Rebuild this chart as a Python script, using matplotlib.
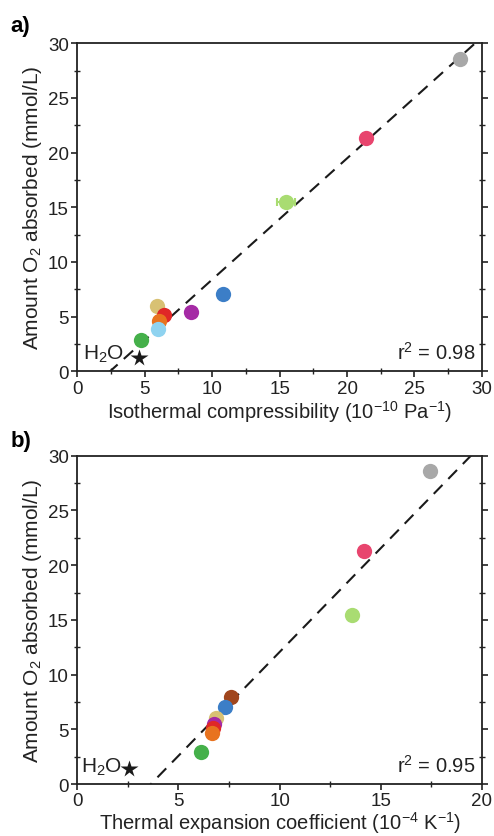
import numpy as np
import matplotlib
matplotlib.use("Agg")
import matplotlib.pyplot as plt
from matplotlib.ticker import MultipleLocator

plt.rcParams['font.family'] = ['Liberation Sans', 'DejaVu Sans']
plt.rcParams['mathtext.fontset'] = 'custom'
plt.rcParams['mathtext.rm'] = 'Liberation Sans'
plt.rcParams['mathtext.it'] = 'Liberation Sans:italic'

colors = ['#a8a8a8', '#e8456e', '#a9dc72', '#a0461d', '#3c7ec7', '#d8c173',
          '#a52aa5', '#e02727', '#e8731f', '#8fd3f0', '#45b04a']
o2_absorbed = [28.57, 21.3, 15.49, 7.98, 7.04, 5.98, 5.43, 5.12, 4.63, 3.90, 2.86]
# Isothermal compressibility (10^-10 Pa^-1); NaN = not shown
compress = [28.4, 21.37, 15.46, np.nan, 10.79, 5.89, 8.41, 6.43, 6.08, 6.01, 4.70]
compress_err = [0, 0, 0.65, 0, 0, 0, 0, 0, 0, 0, 0]
o2_b = [28.58, 21.3, 15.48, 7.98, 7.07, 6.0, 5.48, 5.09, 4.69, np.nan, 2.95]
# Thermal expansion coefficient (10^-4 K^-1)
expansion = [17.44, 14.19, 13.59, 7.59, 7.29, 6.88, 6.76, 6.70, 6.65, np.nan, 6.10]

water_a = (4.55, 1.25)
water_b = (2.56, 1.37)

fit_a = (1.108, -2.69)
fit_b = (1.897, -6.905)
r2_a = "0.98"
r2_b = "0.95"

TXT = '#222222'

fig = plt.figure(figsize=(4.94, 8.37), dpi=100)
ax1 = fig.add_axes([0.1565, 0.5552, 0.819, 0.392])
ax2 = fig.add_axes([0.1565, 0.0621, 0.819, 0.3922])

def style(ax, xmax, xmajor):
    ax.set_xlim(0, xmax)
    ax.set_ylim(0, 30)
    ax.xaxis.set_major_locator(MultipleLocator(xmajor))
    ax.xaxis.set_minor_locator(MultipleLocator(xmajor / 2))
    ax.yaxis.set_major_locator(MultipleLocator(5))
    ax.yaxis.set_minor_locator(MultipleLocator(2.5))
    for s in ax.spines.values():
        s.set_linewidth(1.3)
        s.set_color(TXT)
    ax.tick_params(which='major', direction='out', length=4, width=1.2,
                   labelsize=13.5, colors=TXT, pad=2)
    ax.tick_params(which='minor', direction='inout', length=5, width=1.0,
                   colors=TXT)
    ax.tick_params(axis='y', which='both', right=True, labelright=False)

def draw(ax, xs, ys, fit, xmax, water, r2, label_x, xerr=None):
    xx = np.linspace(0, xmax, 200)
    ax.plot(xx, fit[0] * xx + fit[1], color='#1a1a1a', lw=1.5,
            linestyle=(0, (6, 4)), zorder=2)
    for i, (x, y) in enumerate(zip(xs, ys)):
        if np.isnan(x) or np.isnan(y):
            continue
        if xerr is not None and xerr[i] > 0:
            ax.errorbar(x, y, xerr=xerr[i], fmt='none', ecolor=colors[i],
                        elinewidth=1.5, capsize=3, capthick=1.5, zorder=3)
        ax.plot(x, y, 'o', ms=11, color=colors[i], mec='none', zorder=4)
    ax.plot(water[0], water[1], '*', ms=13, color='#1a1a1a', mec='none', zorder=5)
    ax.text(label_x, 1.6, 'H$_2$O', fontsize=15, ha='left', va='center',
            color=TXT)
    ax.text(0.985, 0.025, 'r$^2$ = ' + r2, transform=ax.transAxes, ha='right',
            va='bottom', fontsize=14.5, color=TXT)

style(ax1, 30, 5)
draw(ax1, compress, o2_absorbed, fit_a, 30, water_a, r2_a, 0.45, compress_err)
style(ax2, 20, 5)
draw(ax2, expansion, o2_b, fit_b, 20, water_b, r2_b, 0.2)

ax1.set_xlabel('Isothermal compressibility (10$^{-10}$ Pa$^{-1}$)', fontsize=14.5,
               color=TXT, labelpad=1)
ax2.set_xlabel('Thermal expansion coefficient (10$^{-4}$ K$^{-1}$)', fontsize=14.5,
               color=TXT, labelpad=0)
for ax in (ax1, ax2):
    ax.set_ylabel('Amount O$_2$ absorbed (mmol/L)', fontsize=15,
                  color=TXT, labelpad=3)

fig.text(0.022, 0.968, 'a)', fontsize=16, fontweight='bold', ha='left', va='center')
fig.text(0.022, 0.473, 'b)', fontsize=16, fontweight='bold', ha='left', va='center')

fig.savefig('out.png', dpi=100)
